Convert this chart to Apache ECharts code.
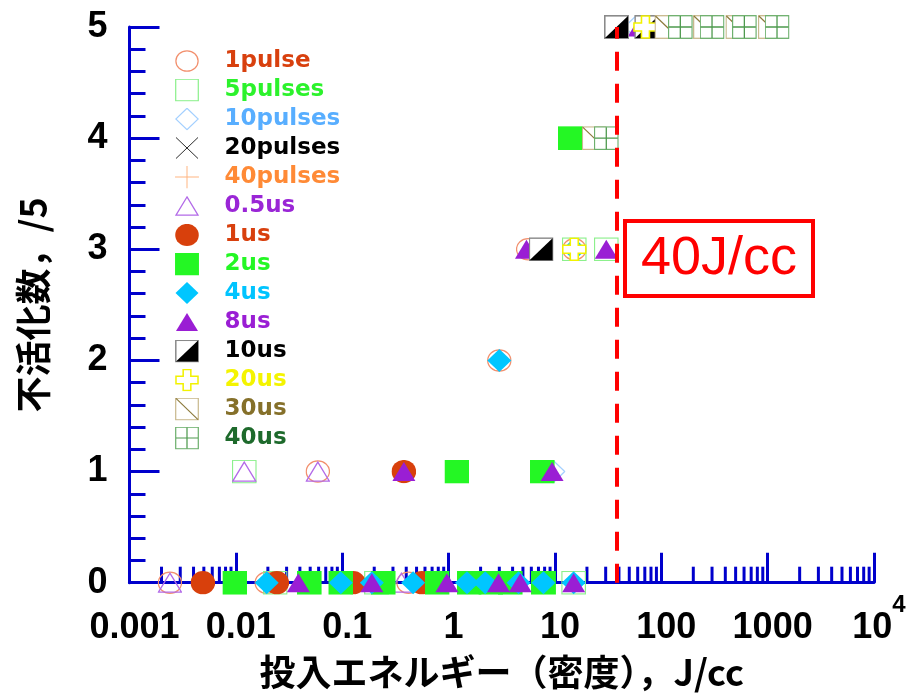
<!DOCTYPE html>
<html><head><meta charset="utf-8">
<script src="https://cdn.jsdelivr.net/npm/echarts@6/dist/echarts.min.js"></script>
<style>html,body{margin:0;padding:0;background:#fff}#c{width:910px;height:697px}</style>
</head><body><div id="c"></div>
<script>
// ---- data ----
const seriesNames = ['1pulse','5pulses','10pulses','20pulses','40pulses','0.5us','1us','2us','4us','8us','10us','20us','30us','40us'];
const d_1pulse   = [[0.0024,0],[0.0195,0],[0.42,0],[0.059,1],[3.0,2],[5.6,3],[15.2,3]];
const d_5pulses  = [[0.0234,0],[0.21,0],[15,0],[0.012,1],[15.2,3],[30.4,3]];
const d_10pulses = [[9.6,1],[58,5]];
const d_20pulses = [];
const d_40pulses = [];
const d_05us     = [[0.0024,0],[0.36,0],[0.012,1],[0.059,1]];
const d_1us      = [[0.0049,0],[0.0243,0],[0.127,0],[0.56,0],[0.38,1]];
const d_2us      = [[0.0098,0],[0.049,0],[0.097,0],[0.243,0],[0.78,0],[1.56,0],[2.5,0],[3.8,0],[7.8,0],[1.2,1],[7.6,1],[14,4]];
const d_4us      = [[0.0195,0],[0.097,0],[0.19,0],[0.464,0],[1.49,0],[2.21,0],[4.55,0],[7.8,0],[15,0],[3.0,2],[15.2,3]];
const d_8us      = [[0.0387,0],[0.19,0],[0.964,0],[2.95,0],[4.72,0],[15,0],[0.38,1],[9.4,1],[5.4,3],[30.4,3],[62,5]];
const d_10us     = [[7.4,3],[37.9,5],[73,5]];
const d_20us     = [[15.2,3],[71,5]];
const d_30us     = [[23.4,4],[113,5],[260,5],[525,5],[1060,5]];
const d_40us     = [[30.4,4],[151,5],[300,5],[604,5],[1225,5]];
const seriesData = [d_1pulse,d_5pulses,d_10pulses,d_20pulses,d_40pulses,d_05us,d_1us,d_2us,d_4us,d_8us,d_10us,d_20us,d_30us,d_40us];
const xTickLabels = ['0.001','0.01','0.1','1','10','100','1000','10^4'];
const yTickLabels = ['0','1','2','3','4','5'];
const thresholdEnergy = 38;
const thresholdText = '40J/cc';
const xTitle = '投入エネルギー（密度），J/cc';
const yTitle = '不活化数，/5';

// ---- styles ----
const textColors = ['#D8400E','#2CF22C','#58AEFF','#000000','#FF8A36','#9A26D6','#D8400E','#24F724','#00C4FF','#9A1ED4','#000000','#F4F400','#85702A','#1E6A2C'];
const markerSvg = [
 '<ellipse cx="12.5" cy="12" rx="11.6" ry="10.6" fill="none" stroke="#F2906E" stroke-width="1.3"/>',
 '<rect x="0.7" y="0.7" width="23.6" height="22.6" fill="none" stroke="#8CF08C" stroke-width="1.3"/>',
 '<polygon points="12.5,0.8 24.2,12 12.5,23.2 0.8,12" fill="none" stroke="#A4D0FF" stroke-width="1.3"/>',
 '<path d="M1,1 L24,23 M24,1 L1,23" stroke="#222" stroke-width="1"/>',
 '<path d="M12.5,0 V24 M0,12 H25" stroke="#FFB27C" stroke-width="1"/>',
 '<polygon points="12.5,2.5 24,21.5 1,21.5" fill="none" stroke="#B36BE8" stroke-width="1.3"/>',
 '<ellipse cx="12.5" cy="12" rx="12.3" ry="11.6" fill="#D8400C"/>',
 '<rect x="0" y="0" width="25" height="24" fill="#24F724"/>',
 '<polygon points="12.5,0.5 24.5,12 12.5,23.5 0.5,12" fill="#00C6FF"/>',
 '<polygon points="12.5,2.5 24,21.5 1,21.5" fill="#9A1ED4"/>',
 '<rect x="0.8" y="0.8" width="23.4" height="22.4" fill="#fff" stroke="#8A8A8A" stroke-width="1.6"/><polygon points="24,1 24,23 1,23" fill="#000"/>',
 '<polygon points="8.5,1 16.5,1 16.5,8 24,8 24,16 16.5,16 16.5,23 8.5,23 8.5,16 1,16 1,8 8.5,8" fill="#fff" stroke="#F2F200" stroke-width="1.6"/>',
 '<rect x="0.7" y="0.7" width="23.6" height="22.6" fill="#fff" stroke="#C9B98E" stroke-width="1.3"/><path d="M1,1 L24,23" stroke="#8C7A3C" stroke-width="1.2"/>',
 '<rect x="0.7" y="0.7" width="23.6" height="22.6" fill="#fff" stroke="#6DB06D" stroke-width="1.3"/><path d="M12.5,1 V23 M1,12 H24" stroke="#4E9A4E" stroke-width="1.3"/>'
];
function sym(body){
  return 'image://data:image/svg+xml;charset=utf-8,' + encodeURIComponent('<svg xmlns="http://www.w3.org/2000/svg" width="25" height="24" viewBox="0 0 25 24">' + body + '</svg>');
}
const AX = '#0000CC';
const numFont = '"Liberation Sans", Arial, sans-serif';
const cjkFont = '"Noto Sans CJK JP", sans-serif';

// minor log ticks (axis furniture)
const minorTicks = [];
for (let e = -3; e <= 3; e++) for (let m = 2; m <= 9; m++) minorTicks.push([+(m * Math.pow(10, e)).toPrecision(3), 0]);

const series = seriesNames.map((n, i) => ({
  name: n, type: 'scatter', data: seriesData[i],
  symbol: sym(markerSvg[i]), symbolSize: [25, 24], z: 3 + i * 0.01,
  itemStyle: { opacity: 1 },
  emphasis: { disabled: true }
}));
series.unshift({
  type: 'custom', data: minorTicks, silent: true, clip: false, z: 1,
  renderItem: (params, api) => {
    const p = api.coord([api.value(0), api.value(1)]);
    return { type: 'line', shape: { x1: p[0], y1: p[1], x2: p[0], y2: p[1] - 16 }, style: { stroke: AX, lineWidth: 3 } };
  },
  markLine: {
    silent: true, symbol: 'none', animation: false, z: 20,
    label: { show: false },
    lineStyle: { color: '#FF0000', width: 4, type: [19, 13], opacity: 1 },
    data: [{ xAxis: thresholdEnergy }]
  }
});

const chart = echarts.init(document.getElementById('c'));
chart.setOption({
  animation: false,
  backgroundColor: '#fff',
  grid: { left: 129.5, right: 36, top: 27, bottom: 114.3, containLabel: false, outerBoundsMode: 'none' },
  legend: {
    orient: 'vertical', left: 169.5, top: 44.5,
    itemWidth: 25, itemHeight: 23, itemGap: 6,
    selectedMode: false,
    textStyle: { fontFamily: '"DejaVu Sans", sans-serif', fontWeight: 'bold', fontSize: 23, padding: [0, 0, 0, 20] },
    data: seriesNames.map((n, i) => ({ name: n, textStyle: { color: textColors[i] } }))
  },
  xAxis: {
    type: 'log', logBase: 10, min: 0.001, max: 10000, splitNumber: 7,
    name: xTitle, nameLocation: 'middle', nameGap: 72, nameMoveOverlap: false,
    nameTextStyle: { fontFamily: cjkFont, fontWeight: 'bold', fontSize: 36, color: '#000' },
    axisLine: { show: true, onZero: false, lineStyle: { color: AX, width: 3 } },
    axisTick: { show: true, inside: true, length: 30, lineStyle: { color: AX, width: 3 } },
    minorTick: { show: false }, splitLine: { show: false },
    axisLabel: {
      margin: 11, color: '#000', fontFamily: numFont, fontWeight: 'bold', fontSize: 36, lineHeight: 68,
      padding: [0, 0, 0, 10],
      showMinLabel: true, showMaxLabel: true,
      formatter: (v) => {
        const idx = Math.round(Math.log10(v)) + 3;
        const t = xTickLabels[idx];
        if (t && t.indexOf('^') > 0) { const p = t.split('^'); return '{b|' + p[0] + '}{s|' + p[1] + '}'; }
        return t;
      },
      rich: {
        b: { fontFamily: numFont, fontWeight: 'bold', fontSize: 36, lineHeight: 68, color: '#000' },
        s: { fontFamily: numFont, fontWeight: 'bold', fontSize: 24, lineHeight: 24, verticalAlign: 'top', color: '#000' }
      }
    }
  },
  yAxis: {
    type: 'value', min: 0, max: 5, interval: 1,
    name: yTitle, nameLocation: 'middle', nameGap: 78, nameRotate: 90, nameMoveOverlap: false,
    nameTextStyle: { fontFamily: cjkFont, fontWeight: 'bold', fontSize: 36, color: '#000' },
    axisLine: { show: true, lineStyle: { color: AX, width: 3 } },
    axisTick: { show: true, inside: true, length: 30, lineStyle: { color: AX, width: 3 } },
    minorTick: { show: true, splitNumber: 5, length: 16, lineStyle: { color: AX, width: 3 } },
    splitLine: { show: false },
    axisLabel: { margin: 22, color: '#000', fontFamily: numFont, fontWeight: 'bold', fontSize: 36,
      formatter: (v) => yTickLabels[Math.round(v)] }
  },
  graphic: [
    { type: 'rect', z: 100, shape: { x: 625, y: 221, width: 188, height: 75 }, style: { fill: '#fff', stroke: '#FF0000', lineWidth: 4 } },
    { type: 'text', z: 101, x: 719, y: 259, style: { text: thresholdText, fill: '#FF0000', font: '54px "Liberation Sans", Arial, sans-serif', align: 'center', verticalAlign: 'middle', textAlign: 'center', textVerticalAlign: 'middle' } }
  ],
  series: series
});
</script></body></html>
